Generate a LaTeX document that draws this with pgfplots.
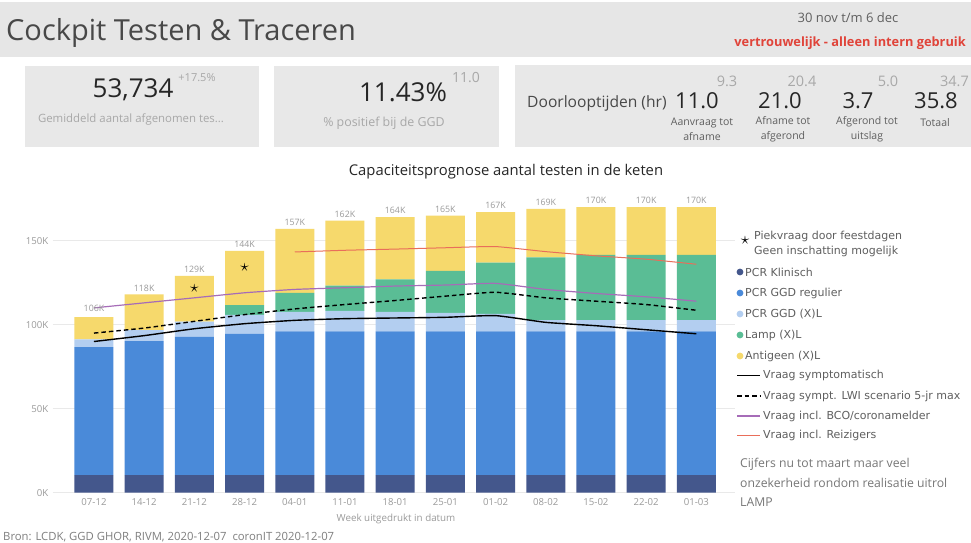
\documentclass[border=0pt]{standalone}
\usepackage{fontspec}
\setmainfont{Open Sans}
\newfontfamily\dejavu{DejaVu Sans}
\usepackage{pgfplots}
\pgfplotsset{compat=1.18}
\usepackage{pgfplotstable}

\definecolor{cKlin}{HTML}{44578C}
\definecolor{cReg}{HTML}{4A8AD9}
\definecolor{cXL}{HTML}{B3CEF0}
\definecolor{cLamp}{HTML}{5ABD95}
\definecolor{cAnt}{HTML}{F6D96C}
\definecolor{cPurp}{HTML}{A66CB8}
\definecolor{cRed}{HTML}{E96E5A}
\definecolor{hdr}{HTML}{E6E6E6}
\definecolor{card}{HTML}{E8E8E8}
\definecolor{titlegray}{HTML}{484848}
\definecolor{txtgray}{HTML}{9A9A9A}
\definecolor{midgray}{HTML}{5F5F5F}
\definecolor{lgray}{HTML}{A8A8A8}
\definecolor{dred}{HTML}{E0443A}
\definecolor{gridc}{HTML}{E9E9E9}

% segments of the stacked bars (thousands)
\pgfplotstableread{
x klin reg xl lamp ant
0 10.5 76.2 4.6 0 13.2
1 10.5 79.8 6.5 0 21.2
2 10.5 82.2 9.1 0 27.2
3 10.5 84.0 11.3 5.9 32.3
4 10.5 85.5 11.7 11.3 38.0
5 10.5 85.5 12.2 15.0 38.8
6 10.5 85.5 11.6 19.4 37.0
7 10.5 85.5 11.0 25.0 33.0
8 10.5 85.5 10.4 30.5 30.1
9 10.5 85.5 6.8 37.3 28.9
10 10.5 85.5 6.8 38.7 28.5
11 10.5 85.5 6.8 38.7 28.5
12 10.5 85.5 6.8 38.7 28.5
}\bars

% demand lines (thousands)
\pgfplotstableread{
x sym lwi bco
0 90.0 95.0 110.0
1 93.5 98.0 113.0
2 97.6 102.0 116.0
3 100.6 106.0 119.0
4 102.6 109.4 121.0
5 103.6 112.0 122.0
6 104.0 114.4 123.0
7 104.4 117.0 123.6
8 105.4 119.3 124.6
9 101.4 116.0 121.0
10 99.4 114.0 118.6
11 97.0 112.0 116.6
12 94.6 108.6 114.0
}\lines

\pgfplotstableread{
x rei
4 143.3
5 144.3
6 145.0
7 145.8
8 146.5
9 143.5
10 141.0
11 139.0
12 136.0
}\reiz

\pgfplotstableread{
x y lab
0 106 106K
1 118 118K
2 129 129K
3 144 144K
4 157 157K
5 162 162K
6 164 164K
7 165 165K
8 167 167K
9 169 169K
10 170 170K
11 170 170K
12 170 170K
}\labs

\pgfplotstableread{
x y
2 121.3
3 133.8
}\stars

\pgfplotsset{
  base/.style={
    scale only axis, width=682.2pt, height=302.4pt,
    xmin=-0.82, xmax=12.77, ymin=0, ymax=180,
    at={(52.8pt,49.3pt)}, anchor=south west, clip=false,
  }
}

\begin{document}
\begin{tikzpicture}[x=1pt,y=1pt]
\path[use as bounding box] (0,0) rectangle (971,542);
\fill[white] (0,0) rectangle (971,542);
\begin{scope}[shift={(0,542)}, yscale=-1]
  % header
  \fill[hdr] (0,2) rectangle (971,57);
  \node[anchor=west, text=titlegray, font=\fontsize{29}{32}\selectfont, inner sep=0] at (6,33) {Cockpit Testen \& Traceren};
  \node[text=midgray, font=\fontsize{13}{15}\selectfont, inner sep=0] at (848,18) {30 nov t/m 6 dec};
  \node[anchor=east, text=dred, font=\bfseries\fontsize{12.8}{15}\selectfont, inner sep=0] at (966,43) {vertrouwelijk - alleen intern gebruik};
  % cards
  \fill[card] (25,66) rectangle (259,147);
  \fill[card] (274,66) rectangle (499,147);
  \fill[card] (515,65) rectangle (971,147);
  \node[text=black!85, font=\fontsize{26}{28}\selectfont, inner sep=0] at (133,90) {53,734};
  \node[text=lgray, font=\fontsize{11}{13}\selectfont, inner sep=0] at (197,78) {+17.5\%};
  \node[text=lgray, font=\fontsize{11.4}{13}\selectfont, inner sep=0] at (131,120) {Gemiddeld aantal afgenomen tes...};
  \node[text=black!85, font=\fontsize{26}{28}\selectfont, inner sep=0] at (403,92) {11.43\%};
  \node[text=lgray, font=\fontsize{14}{16}\selectfont, inner sep=0] at (466,78) {11.0};
  \node[text=lgray, font=\fontsize{12.4}{14}\selectfont, inner sep=0] at (384,123) {\% positief bij de GGD};
  \node[anchor=west, text=titlegray, font=\fontsize{15.6}{17}\selectfont, inner sep=0] at (527,103) {Doorlooptijden (hr)};
  % durations
  \foreach \cx/\gx/\g/\v in {697/727/9.3/11.0, 780/802/20.4/21.0, 858/888/5.0/3.7}{
    \node[text=lgray, font=\fontsize{14.5}{16}\selectfont, inner sep=0] at (\gx,81) {\g};
    \node[text=black!85, font=\fontsize{22}{24}\selectfont, inner sep=0] at (\cx,101) {\v};
  }
  \node[anchor=east, text=lgray, font=\fontsize{14.5}{16}\selectfont, inner sep=0] at (969,81) {34.7};
  \node[text=black!85, font=\fontsize{22}{24}\selectfont, inner sep=0] at (936,101) {35.8};
  \node[text=midgray, font=\fontsize{10.5}{15}\selectfont, align=center, inner sep=0] at (702,129.5) {Aanvraag tot\\afname};
  \node[text=midgray, font=\fontsize{10.5}{15}\selectfont, align=center, inner sep=0] at (783,129.5) {Afname tot\\afgerond};
  \node[text=midgray, font=\fontsize{10.5}{15}\selectfont, align=center, inner sep=0] at (867,129.5) {Afgerond tot\\uitslag};
  \node[text=midgray, font=\fontsize{10.5}{12}\selectfont, inner sep=0] at (935,123) {Totaal};
  % chart title
  \node[text=black!85, font=\fontsize{14.8}{17}\selectfont, inner sep=0] at (506,172) {Capaciteitsprognose aantal testen in de keten};
  % x axis title and source
  \node[text=txtgray, font=\fontsize{9.8}{11}\selectfont, inner sep=0] at (396,519) {Week uitgedrukt in datum};
  \node[anchor=west, text=midgray!80, font=\fontsize{11.3}{13}\selectfont, inner sep=0] at (3,537) {Bron: LCDK, GGD GHOR, RIVM, 2020-12-07\ \ coronIT 2020-12-07};
  % legend
  \node[inner sep=0, font=\fontsize{16}{16}\selectfont] at (745,240) {$\star$};
  \node[anchor=west, text=midgray, font=\dejavu\fontsize{11}{15}\selectfont, align=left, inner sep=0] at (754,243.5) {Piekvraag door feestdagen\\Geen inschatting mogelijk};
  \foreach \yy/\cc/\tt in {272/cKlin/PCR Klinisch, 293/cReg/PCR GGD regulier, 314/cXL/PCR GGD (X)L, 335/cLamp/Lamp (X)L, 356/cAnt/Antigeen (X)L}{
    \fill[\cc] (740,\yy) circle (3.4);
    \node[anchor=west, text=midgray, font=\dejavu\fontsize{11}{12}\selectfont, inner sep=0] at (745,\yy) {\tt};
  }
  \draw[black, line width=1.4pt] (737,375.5) -- (760,375.5);
  \node[anchor=west, text=midgray, font=\dejavu\fontsize{11}{12}\selectfont, inner sep=0] at (763,375.5) {Vraag symptomatisch};
  \draw[black, line width=1.4pt, dash pattern=on 4.5pt off 3pt] (737,396) -- (760,396);
  \node[anchor=west, text=midgray, font=\dejavu\fontsize{11}{12}\selectfont, inner sep=0] at (763,396) {Vraag sympt. LWI scenario 5-jr max};
  \draw[cPurp, line width=1.2pt] (737,416) -- (760,416);
  \node[anchor=west, text=midgray, font=\dejavu\fontsize{11}{12}\selectfont, inner sep=0] at (763,416) {Vraag incl. BCO/coronamelder};
  \draw[cRed, line width=1pt] (737,435.5) -- (760,435.5);
  \node[anchor=west, text=midgray, font=\dejavu\fontsize{11}{12}\selectfont, inner sep=0] at (763,435.5) {Vraag incl. Reizigers};
  \node[anchor=north west, text=midgray!85, font=\fontsize{12.2}{19.5}\selectfont, align=left, inner sep=0] at (740,458) {Cijfers nu tot maart maar veel\\onzekerheid rondom realisatie uitrol\\LAMP};
\end{scope}

\begin{axis}[base, ybar stacked, bar width=39pt,
  axis line style={draw=none}, major tick length=0pt,
  ymajorgrids, grid style={gridc, line width=0.6pt},
  xtick={0,...,12},
  xticklabels={07-12,14-12,21-12,28-12,04-01,11-01,18-01,25-01,01-02,08-02,15-02,22-02,01-03},
  ytick={0,50,100,150}, yticklabels={0K,50K,100K,150K},
  xticklabel style={text=txtgray, font=\fontsize{9.6}{11}\selectfont, yshift=-2pt},
  yticklabel style={text=txtgray, font=\fontsize{9.6}{11}\selectfont, xshift=-1pt},
]
\addplot[fill=cKlin, draw=none] table[x=x,y=klin]{\bars};
\addplot[fill=cReg, draw=none] table[x=x,y=reg]{\bars};
\addplot[fill=cXL, draw=none] table[x=x,y=xl]{\bars};
\addplot[fill=cLamp, draw=none] table[x=x,y=lamp]{\bars};
\addplot[fill=cAnt, draw=none] table[x=x,y=ant]{\bars};
\end{axis}

\begin{axis}[base, hide axis]
\addplot[black, line width=1.4pt, smooth, tension=0.3, mark=none] table[x=x,y=sym]{\lines};
\addplot[black, line width=1.4pt, dash pattern=on 4.5pt off 3pt, smooth, tension=0.3, mark=none] table[x=x,y=lwi]{\lines};
\addplot[cPurp, line width=1.2pt, smooth, tension=0.3, mark=none] table[x=x,y=bco]{\lines};
\addplot[cRed, line width=1pt, smooth, tension=0.3, mark=none] table[x=x,y=rei]{\reiz};
\addplot[only marks, mark=text, text mark={\fontsize{19}{19}\selectfont$\star$}] table[x=x,y=y]{\stars};
\addplot[draw=none, mark=none, nodes near coords, point meta=explicit symbolic,
  nodes near coords style={text=txtgray, font=\fontsize{8.8}{10}\selectfont, anchor=south, inner sep=1pt, yshift=2pt}]
  table[x=x,y=y,meta=lab]{\labs};
\end{axis}
\end{tikzpicture}
\end{document}
